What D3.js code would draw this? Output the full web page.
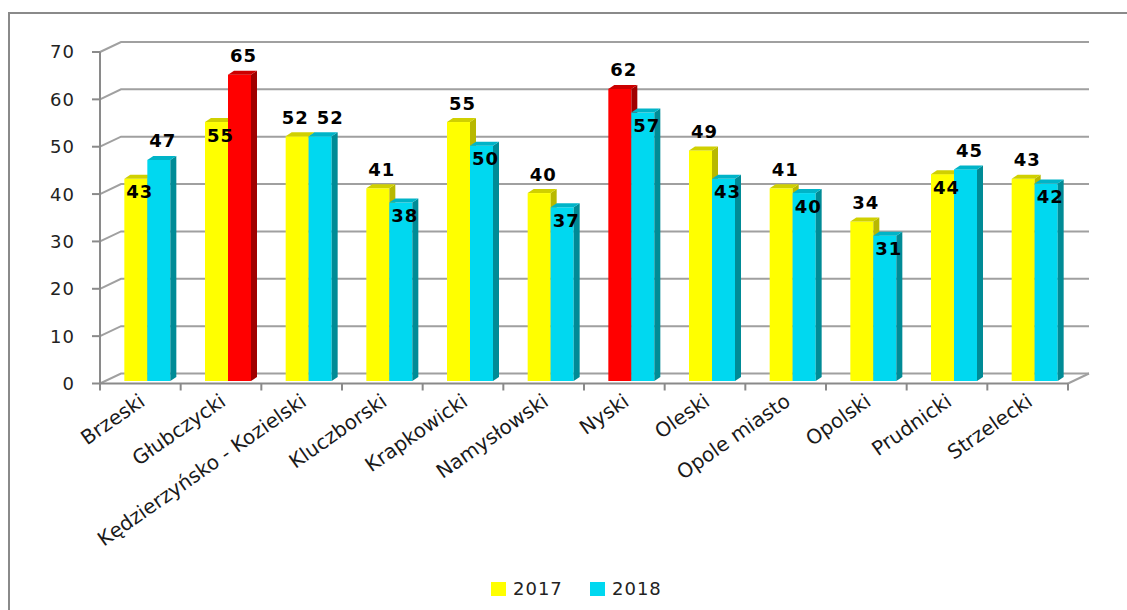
<!DOCTYPE html>
<html>
<head>
<meta charset="utf-8">
<script src="https://cdn.jsdelivr.net/npm/d3@7"></script>
<style>
  body { margin: 0; background: #fff; }
  svg { display: block; font-family: "DejaVu Sans", Verdana, sans-serif; }
</style>
</head>
<body>
<svg id="chart"></svg>
<script>
// dane
const categories = ["Brzeski", "Głubczycki", "Kędzierzyńsko - Kozielski", "Kluczborski", "Krapkowicki",
  "Namysłowski", "Nyski", "Oleski", "Opole miasto", "Opolski", "Prudnicki", "Strzelecki"];
const values2017 = [43, 55, 52, 41, 55, 40, 62, 49, 41, 34, 44, 43];
const values2018 = [47, 65, 52, 38, 50, 37, 57, 43, 40, 31, 45, 42];
const seriesNames = ["2017", "2018"];
const yTicks = [0, 10, 20, 30, 40, 50, 60, 70];

const W = 1127, H = 610;
const svg = d3.select("#chart").attr("width", W).attr("height", H);

// ramka wykresu
svg.append("rect")
  .attr("x", 9).attr("y", 13).attr("width", W + 20).attr("height", H + 20)
  .attr("fill", "none").attr("stroke", "#8a8a8a").attr("stroke-width", 2);

const pLeft = 100, pRight = 1068, pBottom = 383.5, pTop = 52;
const dx = 21, dy = -10; // glebokosc sciany

const x = d3.scaleBand().domain(categories).range([pLeft, pRight]).padding(0);
const y = d3.scaleLinear().domain([0, 70]).range([pBottom, pTop]);

// siatka (tylna sciana)
const grid = svg.append("g").attr("stroke", "#a0a0a0").attr("stroke-width", 2).attr("fill", "none");
yTicks.forEach(t => {
  grid.append("path").attr("d", `M${pLeft},${y(t)}L${pLeft + dx},${y(t) + dy}L${pRight + dx},${y(t) + dy}`);
});
// podloga
grid.append("path").attr("d", `M${pRight},${pBottom}L${pRight + dx},${pBottom + dy}`);

// os Y
svg.append("line").attr("x1", pLeft).attr("x2", pLeft).attr("y1", pTop).attr("y2", pBottom)
  .attr("stroke", "#8a8a8a").attr("stroke-width", 2);
svg.append("g").selectAll("line").data(yTicks).join("line")
  .attr("x1", pLeft - 8).attr("x2", pLeft).attr("y1", d => y(d)).attr("y2", d => y(d))
  .attr("stroke", "#8a8a8a").attr("stroke-width", 2);
svg.append("g").selectAll("text").data(yTicks).join("text")
  .attr("x", 75).attr("y", d => y(d)).attr("dy", "0.36em")
  .attr("text-anchor", "end").attr("font-size", 18).attr("letter-spacing", 1).attr("fill", "#222")
  .text(d => d);

// os X
svg.append("line").attr("x1", pLeft).attr("x2", pRight).attr("y1", pBottom).attr("y2", pBottom)
  .attr("stroke", "#8a8a8a").attr("stroke-width", 2);
svg.append("g").selectAll("line").data(d3.range(categories.length + 1)).join("line")
  .attr("x1", i => pLeft + i * x.bandwidth()).attr("x2", i => pLeft + i * x.bandwidth())
  .attr("y1", pBottom).attr("y2", pBottom + 7)
  .attr("stroke", "#8a8a8a").attr("stroke-width", 2);
svg.append("g").selectAll("text").data(categories).join("text")
  .attr("text-anchor", "end").attr("font-size", 20).attr("fill", "#1a1a1a")
  .attr("transform", d => `translate(${x(d) + x.bandwidth() / 2 + 2},${pBottom + 15}) rotate(-35)`)
  .attr("dy", "0.35em")
  .text(d => d);

// kolory
const colors = [
  { front: "#ffff00", side: "#b8b800", top: "#d0d000" },
  { front: "#00d8f0", side: "#008b96", top: "#00b4c8" }
];
const red = { front: "#ff0000", side: "#a00000", top: "#cc0000" };

const bw = 23, depthX = 6, depthY = -4, barBottom = 381;
const series = [values2017, values2018];
const max = series.map(s => d3.max(s));

const bars = [];
categories.forEach((c, i) => {
  series.forEach((s, k) => {
    const v = s[i];
    const other = series[1 - k][i];
    bars.push({
      cat: c, k, v,
      col: v === max[k] ? red : colors[k],
      x0: x(c) + x.bandwidth() / 2 - 16 + k * bw,
      above: v >= other,
      tie: v === other
    });
  });
});

const g = svg.append("g");
bars.forEach(b => {
  const x0 = b.x0, x1 = b.x0 + bw, yt = y(b.v) - 1;
  g.append("rect").attr("x", x0).attr("y", yt).attr("width", bw).attr("height", barBottom - yt)
    .attr("fill", b.col.front);
  g.append("path")
    .attr("d", `M${x1},${yt}L${x1 + depthX},${yt + depthY}L${x1 + depthX},${barBottom + depthY}L${x1},${barBottom}Z`)
    .attr("fill", b.col.side);
  g.append("path")
    .attr("d", `M${x0},${yt}L${x0 + depthX},${yt + depthY}L${x1 + depthX},${yt + depthY}L${x1},${yt}Z`)
    .attr("fill", b.col.top);
});

// etykiety wartosci (przy rownych wartosciach rozsuniete)
svg.append("g").selectAll("text").data(bars).join("text")
  .attr("x", b => b.x0 + bw / 2 + (b.tie ? (b.k === 0 ? -2 : 10) : 4))
  .attr("y", b => b.above ? y(b.v) - 20 : y(b.v) + 12)
  .attr("dy", "0.36em")
  .attr("text-anchor", "middle").attr("font-size", 18).attr("font-weight", "bold")
  .attr("letter-spacing", 1).attr("fill", "#000")
  .text(b => b.v);

// legenda
const legend = svg.append("g").attr("transform", "translate(491,582)");
seriesNames.forEach((n, k) => {
  const lg = legend.append("g").attr("transform", `translate(${k * 99},0)`);
  lg.append("rect").attr("width", 15).attr("height", 14).attr("fill", colors[k].front);
  lg.append("text").attr("x", 22).attr("y", 7).attr("dy", "0.36em")
    .attr("font-size", 18).attr("letter-spacing", 1).attr("fill", "#222").text(n);
});
</script>
</body>
</html>
